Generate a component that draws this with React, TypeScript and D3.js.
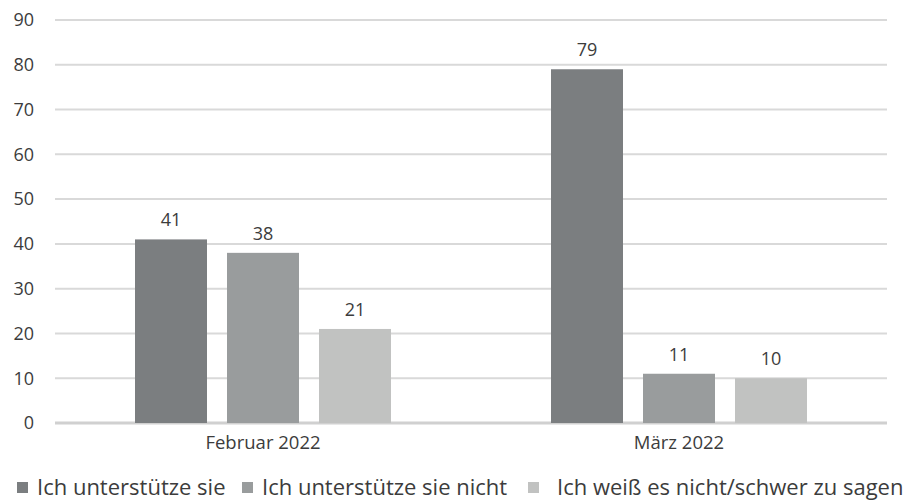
import { useEffect, useRef } from 'react';
import * as d3 from 'd3';

const categories = ['Februar 2022', 'März 2022'];
const seriesNames = ['Ich unterstütze sie', 'Ich unterstütze sie nicht', 'Ich weiß es nicht/schwer zu sagen'];
const supportValues = [41, 79];
const noSupportValues = [38, 11];
const dontKnowValues = [21, 10];
const yTicks = [0, 10, 20, 30, 40, 50, 60, 70, 80, 90];
const colors = ['#7b7e80', '#999c9d', '#c1c2c1'];

const W = 907, H = 502;
const FONT = "'Open Sans', sans-serif";

function App() {
  const svgRef = useRef<SVGSVGElement>(null);

  useEffect(() => {
    const svg = d3.select(svgRef.current);
    svg.selectAll('*').remove();

    const margin = { top: 20, right: 20, bottom: 79, left: 55 };
    const width = W - margin.left - margin.right;
    const height = H - margin.top - margin.bottom;

    const g = svg.append('g').attr('transform', `translate(${margin.left},${margin.top})`);

    const series = [supportValues, noSupportValues, dontKnowValues];

    const x0 = d3.scaleBand().domain(categories).range([0, width]);
    const x1 = d3.scaleBand()
      .domain(d3.range(series.length).map(String))
      .range([0, 72 * 3 + 20 * 2])
      .paddingInner(20 / 92);

    const y = d3.scaleLinear().domain([0, 90]).range([height, 0]);

    // grid
    g.append('g')
      .selectAll('line')
      .data(yTicks)
      .join('line')
      .attr('x1', 0).attr('x2', width)
      .attr('y1', d => y(d)).attr('y2', d => y(d))
      .attr('stroke', d => d === 0 ? '#d0d0d0' : '#d9d9d9')
      .attr('stroke-width', d => d === 0 ? 3 : 2);

    // y tick labels
    g.append('g')
      .selectAll('text')
      .data(yTicks)
      .join('text')
      .attr('x', -21).attr('y', d => y(d))
      .attr('dy', '0.35em')
      .attr('text-anchor', 'end')
      .attr('font-size', 18)
      .attr('fill', '#3c3c3c')
      .text(d => d);

    const groupW = x1.range()[1];

    categories.forEach((cat, ci) => {
      const gx = x0(cat)! + (x0.bandwidth() - groupW) / 2;
      series.forEach((vals, si) => {
        const v = vals[ci];
        const bx = gx + x1(String(si))!;
        g.append('rect')
          .attr('x', bx).attr('y', y(v))
          .attr('width', x1.bandwidth())
          .attr('height', y(0) - y(v))
          .attr('fill', colors[si]);
        g.append('text')
          .attr('x', bx + x1.bandwidth() / 2)
          .attr('y', y(v) - 13)
          .attr('text-anchor', 'middle')
          .attr('font-size', 18)
          .attr('fill', '#3c3c3c')
          .text(v);
      });
      g.append('text')
        .attr('x', x0(cat)! + x0.bandwidth() / 2)
        .attr('y', height + 26)
        .attr('text-anchor', 'middle')
        .attr('font-size', 18.5)
        .attr('fill', '#3c3c3c')
        .text(cat);
    });

    // legend
    const legendX = [17, 242, 528];
    const legend = svg.append('g').attr('transform', `translate(0,${H - 15})`);
    seriesNames.forEach((name, i) => {
      legend.append('rect')
        .attr('x', legendX[i]).attr('y', -5)
        .attr('width', 11).attr('height', 11)
        .attr('fill', colors[i]);
      legend.append('text')
        .attr('x', legendX[i] + (i === 2 ? 29 : 20))
        .attr('y', 0)
        .attr('dy', '0.35em')
        .attr('font-size', 22)
        .attr('fill', '#3c3c3c')
        .text(name);
    });
  }, []);

  return (
    <svg ref={svgRef} width={W} height={H}
      style={{ position: 'absolute', left: 0, top: 0, fontFamily: FONT, background: '#fff' }} />
  );
}

export default App;
